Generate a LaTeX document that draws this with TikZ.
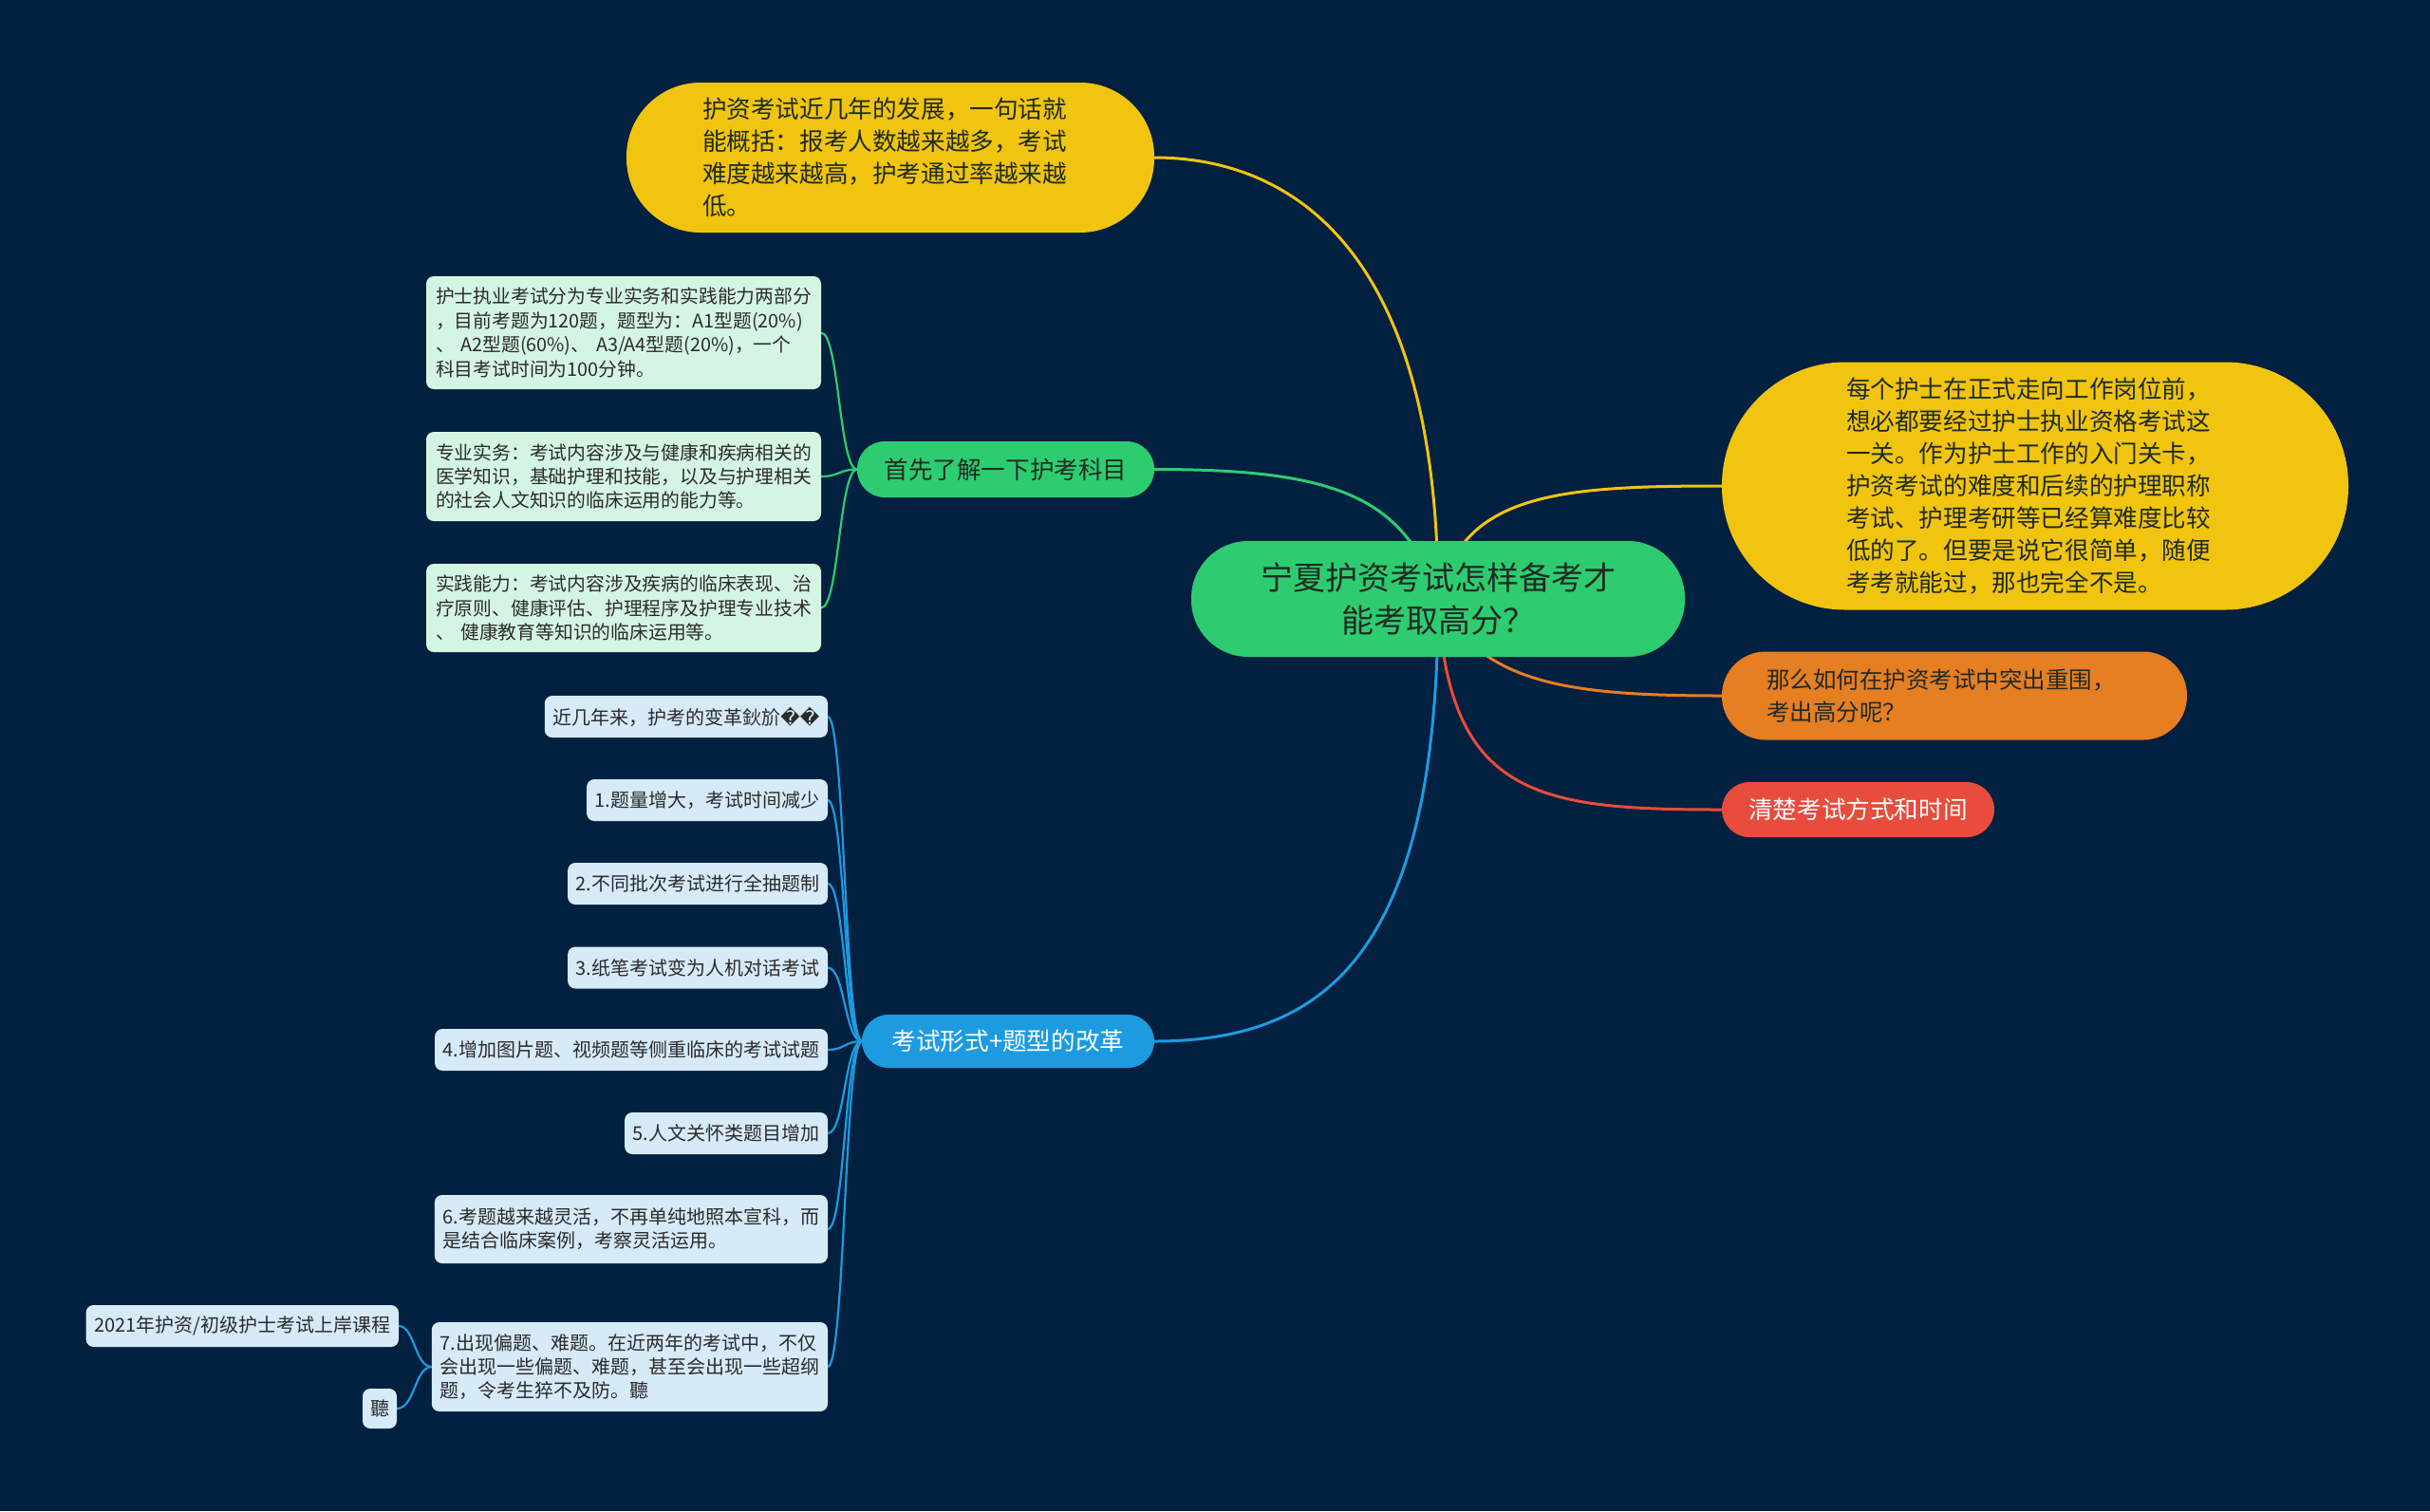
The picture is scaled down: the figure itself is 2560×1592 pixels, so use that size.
\documentclass[tikz,border=0pt]{standalone}
\usepackage{fontspec}
\setmainfont{Noto Sans CJK SC}
\newfontfamily\djv{DejaVu Sans}
\definecolor{bgc}{HTML}{02203F}
\definecolor{cgreen}{HTML}{2ECC71}
\definecolor{cyellow}{HTML}{F1C40F}
\definecolor{corange}{HTML}{E67E22}
\definecolor{cred}{HTML}{E74C3C}
\definecolor{cblue}{HTML}{1D9BE0}
\definecolor{lgreen}{HTML}{D5F5E3}
\definecolor{lblue}{HTML}{D6EAF8}
\definecolor{darktext}{HTML}{1E2B22}
\definecolor{leaftext}{HTML}{2B2B2B}
\pgfdeclarelayer{bgl}
\pgfdeclarelayer{edgel}
\pgfsetlayers{bgl,edgel,main}
\tikzset{
  box/.style={inner ysep=2pt, outer sep=0pt},
  bigfont/.style={font=\fontsize{12.8}{17}\selectfont},
  leaffont/.style={font=\fontsize{9.9}{12.7}\selectfont},
  gleaf/.style={box, fill=lgreen, rounded corners=4pt, text=leaftext, leaffont, align=left, inner xsep=5pt, text width=198pt},
  bleaf/.style={box, fill=lblue, rounded corners=4pt, text=leaftext, font=\fontsize{10}{12.5}\selectfont, inner xsep=4.3pt, minimum height=22pt, anchor=east},
  mainedge/.style={line width=1.5pt},
  subedge/.style={line width=1.1pt},
}
\begin{document}
\begin{tikzpicture}[x=0.5pt,y=-0.5pt]
\begin{pgfonlayer}{bgl}
\fill[bgc] (0,0) rectangle (2560,1592);
\end{pgfonlayer}
\useasboundingbox (0,0) rectangle (2560,1592);

% root
\node[box, fill=cgreen, rounded corners=30pt, minimum width=260pt, minimum height=61pt,
  text=darktext, font=\fontsize{17}{22.9}\selectfont, align=center] (root) at (1515,631)
  {宁夏护资考试怎样备考才\\能考取高分？};

% top yellow
\node[box, fill=cyellow, rounded corners=39pt, minimum height=79pt, inner xsep=40pt, text width=198pt,
  text=darktext, bigfont, align=left] (ytop) at (938,166)
  {护资考试近几年的发展，一句话就\\能概括：报考人数越来越多，考试\\难度越来越高，护考通过率越来越\\低。};

% right yellow
\node[box, fill=cyellow, rounded corners=65pt, minimum height=130.5pt, inner xsep=65.5pt, text width=199pt,
  text=darktext, bigfont, align=left] (yright) at (2144,512)
  {每个护士在正式走向工作岗位前，\\想必都要经过护士执业资格考试这\\一关。作为护士工作的入门关卡，\\护资考试的难度和后续的护理职称\\考试、护理考研等已经算难度比较\\低的了。但要是说它很简单，随便\\考考就能过，那也完全不是。};

% orange
\node[box, fill=corange, rounded corners=23pt, minimum height=46.5pt, inner xsep=23.5pt, text width=198pt,
  text=darktext, font=\fontsize{12.25}{17}\selectfont, align=left] (orng) at (2059,733)
  {那么如何在护资考试中突出重围，\\考出高分呢？};

% red
\node[box, fill=cred, rounded corners=14.5pt, minimum width=143.5pt, minimum height=29pt,
  text=white, bigfont] (rd) at (1957.5,853) {清楚考试方式和时间};

% green sub
\node[box, fill=cgreen, rounded corners=14.5pt, minimum width=156.5pt, minimum height=29.5pt,
  text=darktext, bigfont] (gs) at (1059.5,494.5) {首先了解一下护考科目};

% blue sub
\node[box, fill=cblue, rounded corners=14pt, minimum width=154pt, minimum height=28pt,
  text=white, bigfont] (bs) at (1062,1097) {考试形式+题型的改革};

% green leaves
\node[gleaf, minimum height=59.5pt] (g1) at (657,350.5)
  {护士执业考试分为专业实务和实践能力两部分\\，目前考题为120题，题型为：A1型题(20\%)\\、~A2型题(60\%)、~A3/A4型题(20\%)，一个\\科目考试时间为100分钟。};
\node[gleaf, minimum height=47pt] (g2) at (657,502)
  {专业实务：考试内容涉及与健康和疾病相关的\\医学知识，基础护理和技能，以及与护理相关\\的社会人文知识的临床运用的能力等。};
\node[gleaf, minimum height=46.5pt] (g3) at (657,640.5)
  {实践能力：考试内容涉及疾病的临床表现、治\\疗原则、健康评估、护理程序及护理专业技术\\、~健康教育等知识的临床运用等。};

% blue leaves
\node[bleaf] (b0) at (872,755) {近几年来，护考的变革鈥斺{\djv ��}};
\node[bleaf] (b1) at (872,843) {1.题量增大，考试时间减少};
\node[bleaf] (b2) at (872,931) {2.不同批次考试进行全抽题制};
\node[bleaf] (b3) at (872,1019.5) {3.纸笔考试变为人机对话考试};
\node[bleaf] (b4) at (872,1106) {4.增加图片题、视频题等侧重临床的考试试题};
\node[bleaf] (b5) at (872,1194) {5.人文关怀类题目增加};
\node[bleaf, align=left, text width=198.5pt, minimum height=36pt] (b6) at (872,1295)
  {6.考题越来越灵活，不再单纯地照本宣科，而\\是结合临床案例，考察灵活运用。};
\node[bleaf, align=left, text width=200pt, minimum height=47pt] (b7) at (872,1440)
  {7.出现偏题、难题。在近两年的考试中，不仅\\会出现一些偏题、难题，甚至会出现一些超纲\\题，令考生猝不及防。聽};

% grandchildren
\node[bleaf] (c1) at (420,1397) {2021年护资/初级护士考试上岸课程};
\node[bleaf, minimum height=21pt, inner xsep=4pt] (c2) at (418,1484) {聽};

\begin{pgfonlayer}{edgel}
\draw[mainedge, cyellow] (root.center) .. controls (1515,250) and (1350,166) .. (ytop.east);
\draw[mainedge, cyellow] (root.center) .. controls (1540,520) and (1640,512) .. (yright.west);
\draw[mainedge, cgreen] (root.center) .. controls (1480,520) and (1400,494.5) .. (gs.east);
\draw[mainedge, corange] (root.center) .. controls (1560,720) and (1650,733) .. (orng.west);
\draw[mainedge, cred] (root.center) .. controls (1525,840) and (1620,853) .. (rd.west);
\draw[mainedge, cblue] (root.center) .. controls (1515,1000) and (1400,1097) .. (bs.east);

\foreach \n/\y in {g1/350.5, g2/502, g3/640.5}
  \draw[subedge, cgreen] (gs.west) .. controls (884,494.5) and (884,\y) .. (\n.east);
\foreach \n/\y in {b0/755, b1/843, b2/931, b3/1019.5, b4/1106, b5/1194, b6/1295, b7/1440}
  \draw[subedge, cblue] (bs.west) .. controls (890,1097) and (890,\y) .. (\n.east);
\foreach \n/\y in {c1/1397, c2/1484}
  \draw[subedge, cblue] (b7.west) .. controls (437,1440) and (437,\y) .. (\n.east);
\end{pgfonlayer}
\end{tikzpicture}
\end{document}
